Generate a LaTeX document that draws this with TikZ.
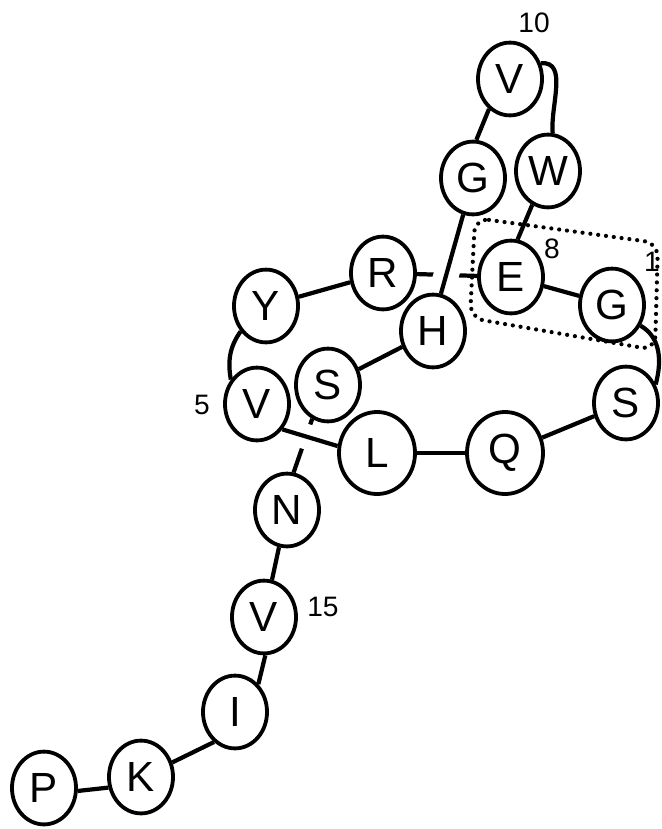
\documentclass[tikz,border=0pt]{standalone}
\usepackage{fontspec}
\setmainfont{Liberation Sans}
\usetikzlibrary{shapes.geometric,backgrounds}

\begin{document}
\begin{tikzpicture}[x=0.025cm,y=-0.025cm,
    res/.style={ellipse,draw,line width=2.7pt,fill=white,inner sep=0pt,
        minimum width=1.6cm,minimum height=1.82cm,font=\fontsize{30}{32}\selectfont},
    bigres/.style={res,minimum width=1.9cm,minimum height=2.05cm},
    bond/.style={line width=3pt},
    over/.style={bond,preaction={draw,white,line width=18pt}},
    num/.style={font=\fontsize{20}{22}\selectfont},
    lnk/.style={line width=3pt,line cap=round,dash pattern=on 0pt off 5.6pt}]
    \useasboundingbox (0,0) rectangle (662,829);
    %% ring
    \node[res] (g1) at (612,305) {G};
    \node[res] (s2) at (626,403) {S};
    \node[bigres] (q3) at (505,453) {Q};
    \node[bigres] (l4) at (377,453) {L};
    \node[res] (v5) at (257,404) {V};
    \node[res] (y6) at (266,306) {Y};
    \node[res] (r7) at (383,273) {R};
    \node[res] (e8) at (511,277) {E};
    %% loop
    \node[res] (w9) at (548,171) {W};
    \node[res] (v10) at (510,79) {V};
    \node[res] (g11) at (473,178) {G};
    \node[res] (h12) at (433,331) {H};
    \node[res] (s13) at (328,385) {S};
    %% tail
    \node[res] (n14) at (287,510) {N};
    \node[res] (v15) at (264,617) {V};
    \node[res] (i16) at (235,712) {I};
    \node[res] (k17) at (141,777) {K};
    \node[res] (p18) at (44,788) {P};
    %% numbers
    \node[num] (lab1) at (652,262) {1};
    \node[num] (lab5) at (202,405) {5};
    \node[num] (lab8) at (552,249) {8};
    \node[num] (lab10) at (534,23) {10};
    \node[num] (lab15) at (323,607) {15};
    %% isopeptide box
    \draw[lnk,rounded corners=10pt] (475,218) -- (658,243) -- (655,350) -- (470,318) -- cycle;
    \begin{pgfonlayer}{background}
        \draw[bond] (e8) -- (g1);
        \draw[bond] (g1.-36) to[out=-30,in=75] (s2.32);
        \draw[bond] (s2) -- (q3);
        \draw[bond] (q3) -- (l4);
        \draw[bond] (v5.137) to[out=100,in=235] (y6.225);
        \draw[bond] (y6) -- (r7);
        \draw[bond] (r7) -- (e8);
        \draw[bond] (w9.245) -- (e8.80);
        \draw[bond] (v10.27) to[out=5,in=95] (w9.83);
        \draw[bond] (v10.235) -- (g11.85);
        \draw[bond] (h12) -- (s13);
        \draw[bond] (s13.245) -- (n14.80);
        \draw[bond] (n14) -- (v15);
        \draw[bond] (v15.-88) -- (i16.50);
        \draw[bond] (i16.235) -- (k17.25);
        \draw[bond] (k17.198) -- (p18.-5);
        %% strands passing over
        \draw[over] (g11.255) -- (h12.78);
        \draw[over] (v5.-45) -- (l4.170);
    \end{pgfonlayer}
\end{tikzpicture}
\end{document}
